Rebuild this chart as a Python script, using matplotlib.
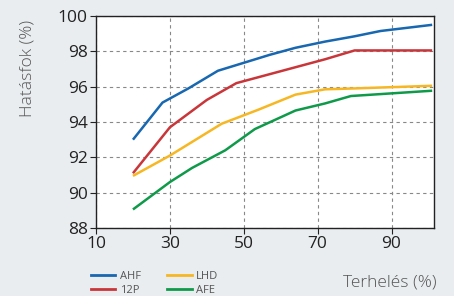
import matplotlib.pyplot as plt
from matplotlib.lines import Line2D

# adatok
ahf_x = [20, 28, 35, 43, 50, 57, 64, 72, 80, 87, 101]
ahf_y = [93.0, 95.1, 95.9, 96.9, 97.35, 97.8, 98.2, 98.55, 98.85, 99.15, 99.5]

p12_x = [20, 30, 40, 48, 56, 64, 72, 80, 101]
p12_y = [91.1, 93.7, 95.25, 96.2, 96.65, 97.1, 97.55, 98.05, 98.05]

lhd_x = [20, 30, 44, 54, 64, 72, 80, 101]
lhd_y = [90.95, 92.1, 93.9, 94.7, 95.55, 95.85, 95.9, 96.05]

afe_x = [20, 30, 36, 45, 53, 64, 72, 79, 101]
afe_y = [89.05, 90.6, 91.4, 92.4, 93.6, 94.65, 95.05, 95.47, 95.77]

x_ticks = [10, 30, 50, 70, 90]
y_ticks = [88, 90, 92, 94, 96, 98, 100]

plt.rcParams['font.family'] = ['Open Sans', 'DejaVu Sans']

bg = '#e9edf0'
fig = plt.figure(figsize=(4.54, 2.96), dpi=100, facecolor=bg)
ax = fig.add_axes([0.2115, 0.2297, 0.7445, 0.7163])
ax.set_facecolor('white')

series = [
    ('AHF', ahf_x, ahf_y, '#1767b1'),
    ('12P', p12_x, p12_y, '#c9363a'),
    ('LHD', lhd_x, lhd_y, '#f6b723'),
    ('AFE', afe_x, afe_y, '#0f9a4a'),
]
for name, xs, ys, c in series:
    ax.plot(xs, ys, color=c, linewidth=1.8, solid_capstyle='butt')

ax.set_xlim(10, 101.5)
ax.set_ylim(88, 100)
ax.set_xticks(x_ticks)
ax.set_yticks(y_ticks)
ax.tick_params(axis='both', labelsize=12.5, colors='#222222', length=4, width=0.8, pad=2)
ax.grid(True, linestyle=(0, (3, 3)), color='#888888', linewidth=0.8)
for s in ax.spines.values():
    s.set_color('#222222')
    s.set_linewidth(1.0)

fig.text(0.06, 0.77, 'Hatásfok (%)', fontsize=12.5, color='#555555', rotation=90,
         ha='center', va='center', fontweight='light')
fig.text(0.962, 0.02, 'Terhelés (%)', fontsize=12.5, color='#555555', ha='right',
         va='bottom', fontweight='light')

handles = [Line2D([0], [0], color=c, linewidth=2) for _, _, _, c in series]
labels = [n for n, _, _, _ in series]
leg = fig.legend(handles, labels, ncol=2, loc='lower left', bbox_to_anchor=(0.178, -0.035),
                 frameon=False, fontsize=8, handlelength=2.2, handletextpad=0.4,
                 columnspacing=2.4, labelspacing=0.3, labelcolor='#555555')

plt.savefig('out.png', dpi=100, facecolor=bg)
